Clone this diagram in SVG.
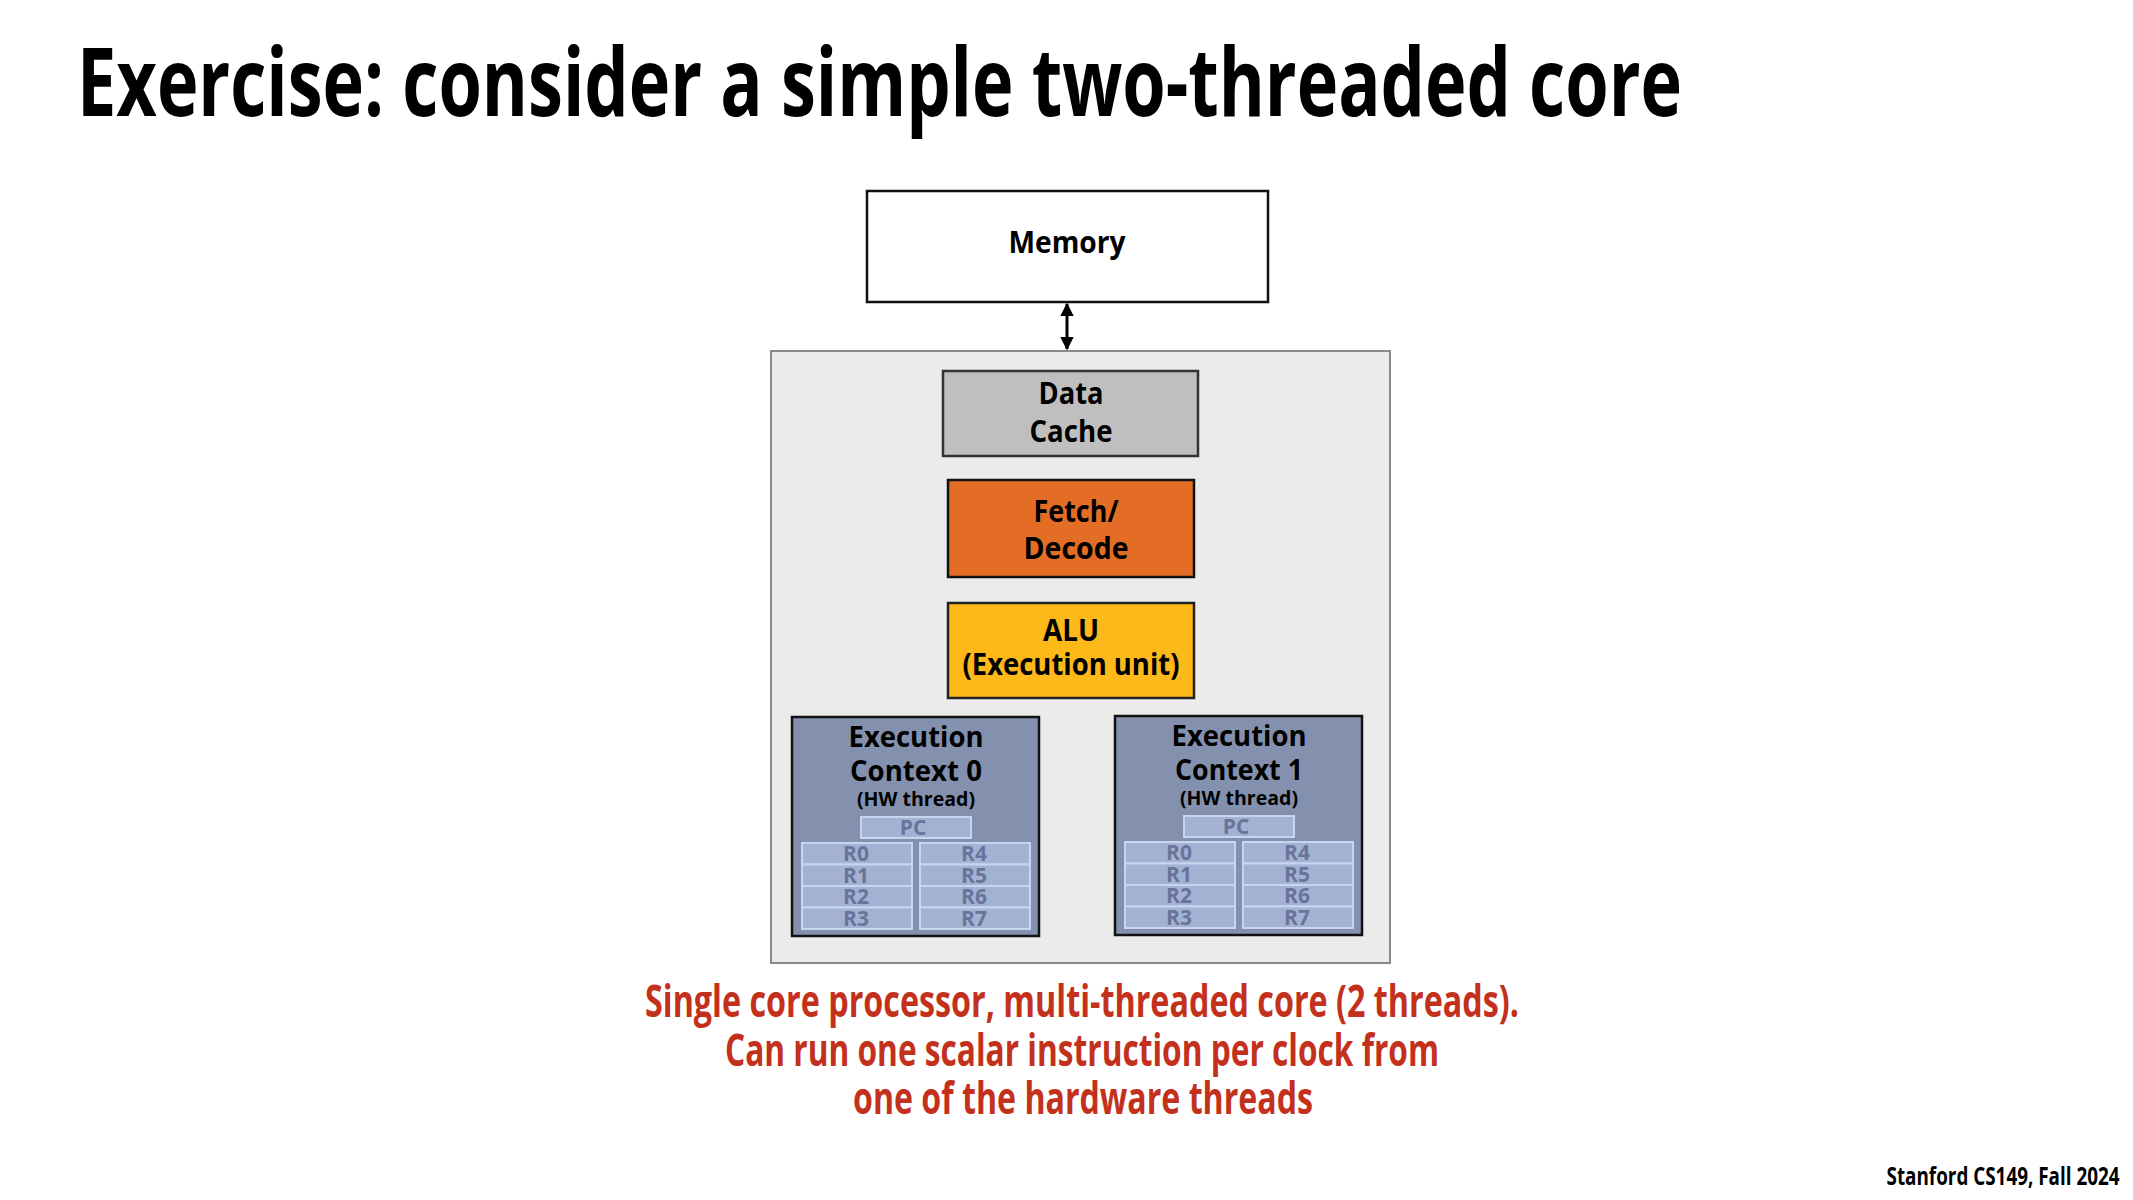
<svg xmlns="http://www.w3.org/2000/svg" width="2133" height="1200" viewBox="0 0 2133 1200">
<style>
text{font-family:"Open Sans","Liberation Sans",sans-serif;font-weight:700;text-anchor:middle}
.title{font-size:95px;fill:#000;text-anchor:start}
.lbl{font-size:30px;fill:#000}
.ctx{font-size:29px;fill:#000}
.hw{font-size:19px;fill:#000}
.reg{font-size:21px;fill:#68749a}
.cap{font-size:44px;fill:#c3311c}
.foot{font-size:25px;fill:#000}
.regbox{fill:#a3b2d3;stroke:#c8d5f1;stroke-width:2}
.ctxbox{fill:#8491ae;stroke:#111;stroke-width:2.5}
</style>
<defs>
<marker id="ah" viewBox="0 0 10 10" refX="9" refY="5" markerWidth="4.6" markerHeight="4.6" orient="auto-start-reverse" markerUnits="strokeWidth">
<path d="M0,0 L10,5 L0,10 z" fill="#000"/>
</marker>
</defs>
<rect width="2133" height="1200" fill="#fff"/>
<text class="title" x="77" y="116" textLength="1605" lengthAdjust="spacingAndGlyphs">Exercise: consider a simple two-threaded core</text>

<g id="core">
<rect x="771" y="351" width="619" height="612" fill="#ebebeb" stroke="#8a8a8a" stroke-width="2"/>
</g>

<g id="memory">
<rect x="867" y="191" width="401" height="111" fill="#fff" stroke="#111" stroke-width="2.5"/>
<text class="lbl" x="1067" y="253" textLength="117" lengthAdjust="spacingAndGlyphs">Memory</text>
</g>

<g id="connectors">
<line x1="1067" y1="304" x2="1067" y2="349" stroke="#000" stroke-width="3" marker-start="url(#ah)" marker-end="url(#ah)"/>
</g>

<g id="datacache">
<rect x="943" y="371" width="255" height="85" fill="#bfbfbf" stroke="#333" stroke-width="2.5"/>
<text class="lbl" x="1071" y="404" textLength="65" lengthAdjust="spacingAndGlyphs">Data</text>
<text class="lbl" x="1071" y="442" textLength="83" lengthAdjust="spacingAndGlyphs">Cache</text>
</g>

<g id="fetchdecode">
<rect x="948" y="480" width="246" height="97" fill="#e46d25" stroke="#111" stroke-width="2.5"/>
<text class="lbl" x="1076" y="522" textLength="85" lengthAdjust="spacingAndGlyphs">Fetch/</text>
<text class="lbl" x="1076" y="559" textLength="105" lengthAdjust="spacingAndGlyphs">Decode</text>
</g>

<g id="alu">
<rect x="948" y="603" width="246" height="95" fill="#fdb919" stroke="#222" stroke-width="2.5"/>
<text class="lbl" x="1071" y="641" textLength="56" lengthAdjust="spacingAndGlyphs">ALU</text>
<text class="lbl" x="1071" y="675" textLength="217" lengthAdjust="spacingAndGlyphs">(Execution unit)</text>
</g>

<g id="ctx0">
<rect class="ctxbox" x="792" y="717" width="247" height="219"/>
<text class="ctx" x="916" y="747" textLength="135" lengthAdjust="spacingAndGlyphs">Execution</text>
<text class="ctx" x="916" y="781" textLength="132" lengthAdjust="spacingAndGlyphs">Context 0</text>
<text class="hw" x="916" y="806" textLength="118" lengthAdjust="spacingAndGlyphs">(HW thread)</text>
<rect class="regbox" x="861" y="817" width="110" height="21"/>
<text class="reg" x="913" y="835">PC</text>
<rect class="regbox" x="802" y="843" width="110" height="21.5"/>
<rect class="regbox" x="802" y="864.5" width="110" height="21.5"/>
<rect class="regbox" x="802" y="886" width="110" height="21.5"/>
<rect class="regbox" x="802" y="907.5" width="110" height="21.5"/>
<rect class="regbox" x="920" y="843" width="110" height="21.5"/>
<rect class="regbox" x="920" y="864.5" width="110" height="21.5"/>
<rect class="regbox" x="920" y="886" width="110" height="21.5"/>
<rect class="regbox" x="920" y="907.5" width="110" height="21.5"/>
<text class="reg" x="856" y="861">R0</text>
<text class="reg" x="856" y="882.5">R1</text>
<text class="reg" x="856" y="904">R2</text>
<text class="reg" x="856" y="925.5">R3</text>
<text class="reg" x="974" y="861">R4</text>
<text class="reg" x="974" y="882.5">R5</text>
<text class="reg" x="974" y="904">R6</text>
<text class="reg" x="974" y="925.5">R7</text>
</g>

<g id="ctx1">
<rect class="ctxbox" x="1115" y="716" width="247" height="219"/>
<text class="ctx" x="1239" y="746" textLength="135" lengthAdjust="spacingAndGlyphs">Execution</text>
<text class="ctx" x="1239" y="780" textLength="128" lengthAdjust="spacingAndGlyphs">Context 1</text>
<text class="hw" x="1239" y="805" textLength="118" lengthAdjust="spacingAndGlyphs">(HW thread)</text>
<rect class="regbox" x="1184" y="816" width="110" height="21"/>
<text class="reg" x="1236" y="834">PC</text>
<rect class="regbox" x="1125" y="842" width="110" height="21.5"/>
<rect class="regbox" x="1125" y="863.5" width="110" height="21.5"/>
<rect class="regbox" x="1125" y="885" width="110" height="21.5"/>
<rect class="regbox" x="1125" y="906.5" width="110" height="21.5"/>
<rect class="regbox" x="1243" y="842" width="110" height="21.5"/>
<rect class="regbox" x="1243" y="863.5" width="110" height="21.5"/>
<rect class="regbox" x="1243" y="885" width="110" height="21.5"/>
<rect class="regbox" x="1243" y="906.5" width="110" height="21.5"/>
<text class="reg" x="1179" y="860">R0</text>
<text class="reg" x="1179" y="881.5">R1</text>
<text class="reg" x="1179" y="903">R2</text>
<text class="reg" x="1179" y="924.5">R3</text>
<text class="reg" x="1297" y="860">R4</text>
<text class="reg" x="1297" y="881.5">R5</text>
<text class="reg" x="1297" y="903">R6</text>
<text class="reg" x="1297" y="924.5">R7</text>
</g>

<g id="caption">
<text class="cap" x="1082" y="1017" textLength="874" lengthAdjust="spacingAndGlyphs">Single core processor, multi-threaded core (2 threads).</text>
<text class="cap" x="1082" y="1066" textLength="714" lengthAdjust="spacingAndGlyphs">Can run one scalar instruction per clock from</text>
<text class="cap" x="1083" y="1114" textLength="460" lengthAdjust="spacingAndGlyphs">one of the hardware threads</text>
</g>

<text class="foot" x="2003" y="1185" textLength="233" lengthAdjust="spacingAndGlyphs">Stanford CS149, Fall 2024</text>
</svg>
